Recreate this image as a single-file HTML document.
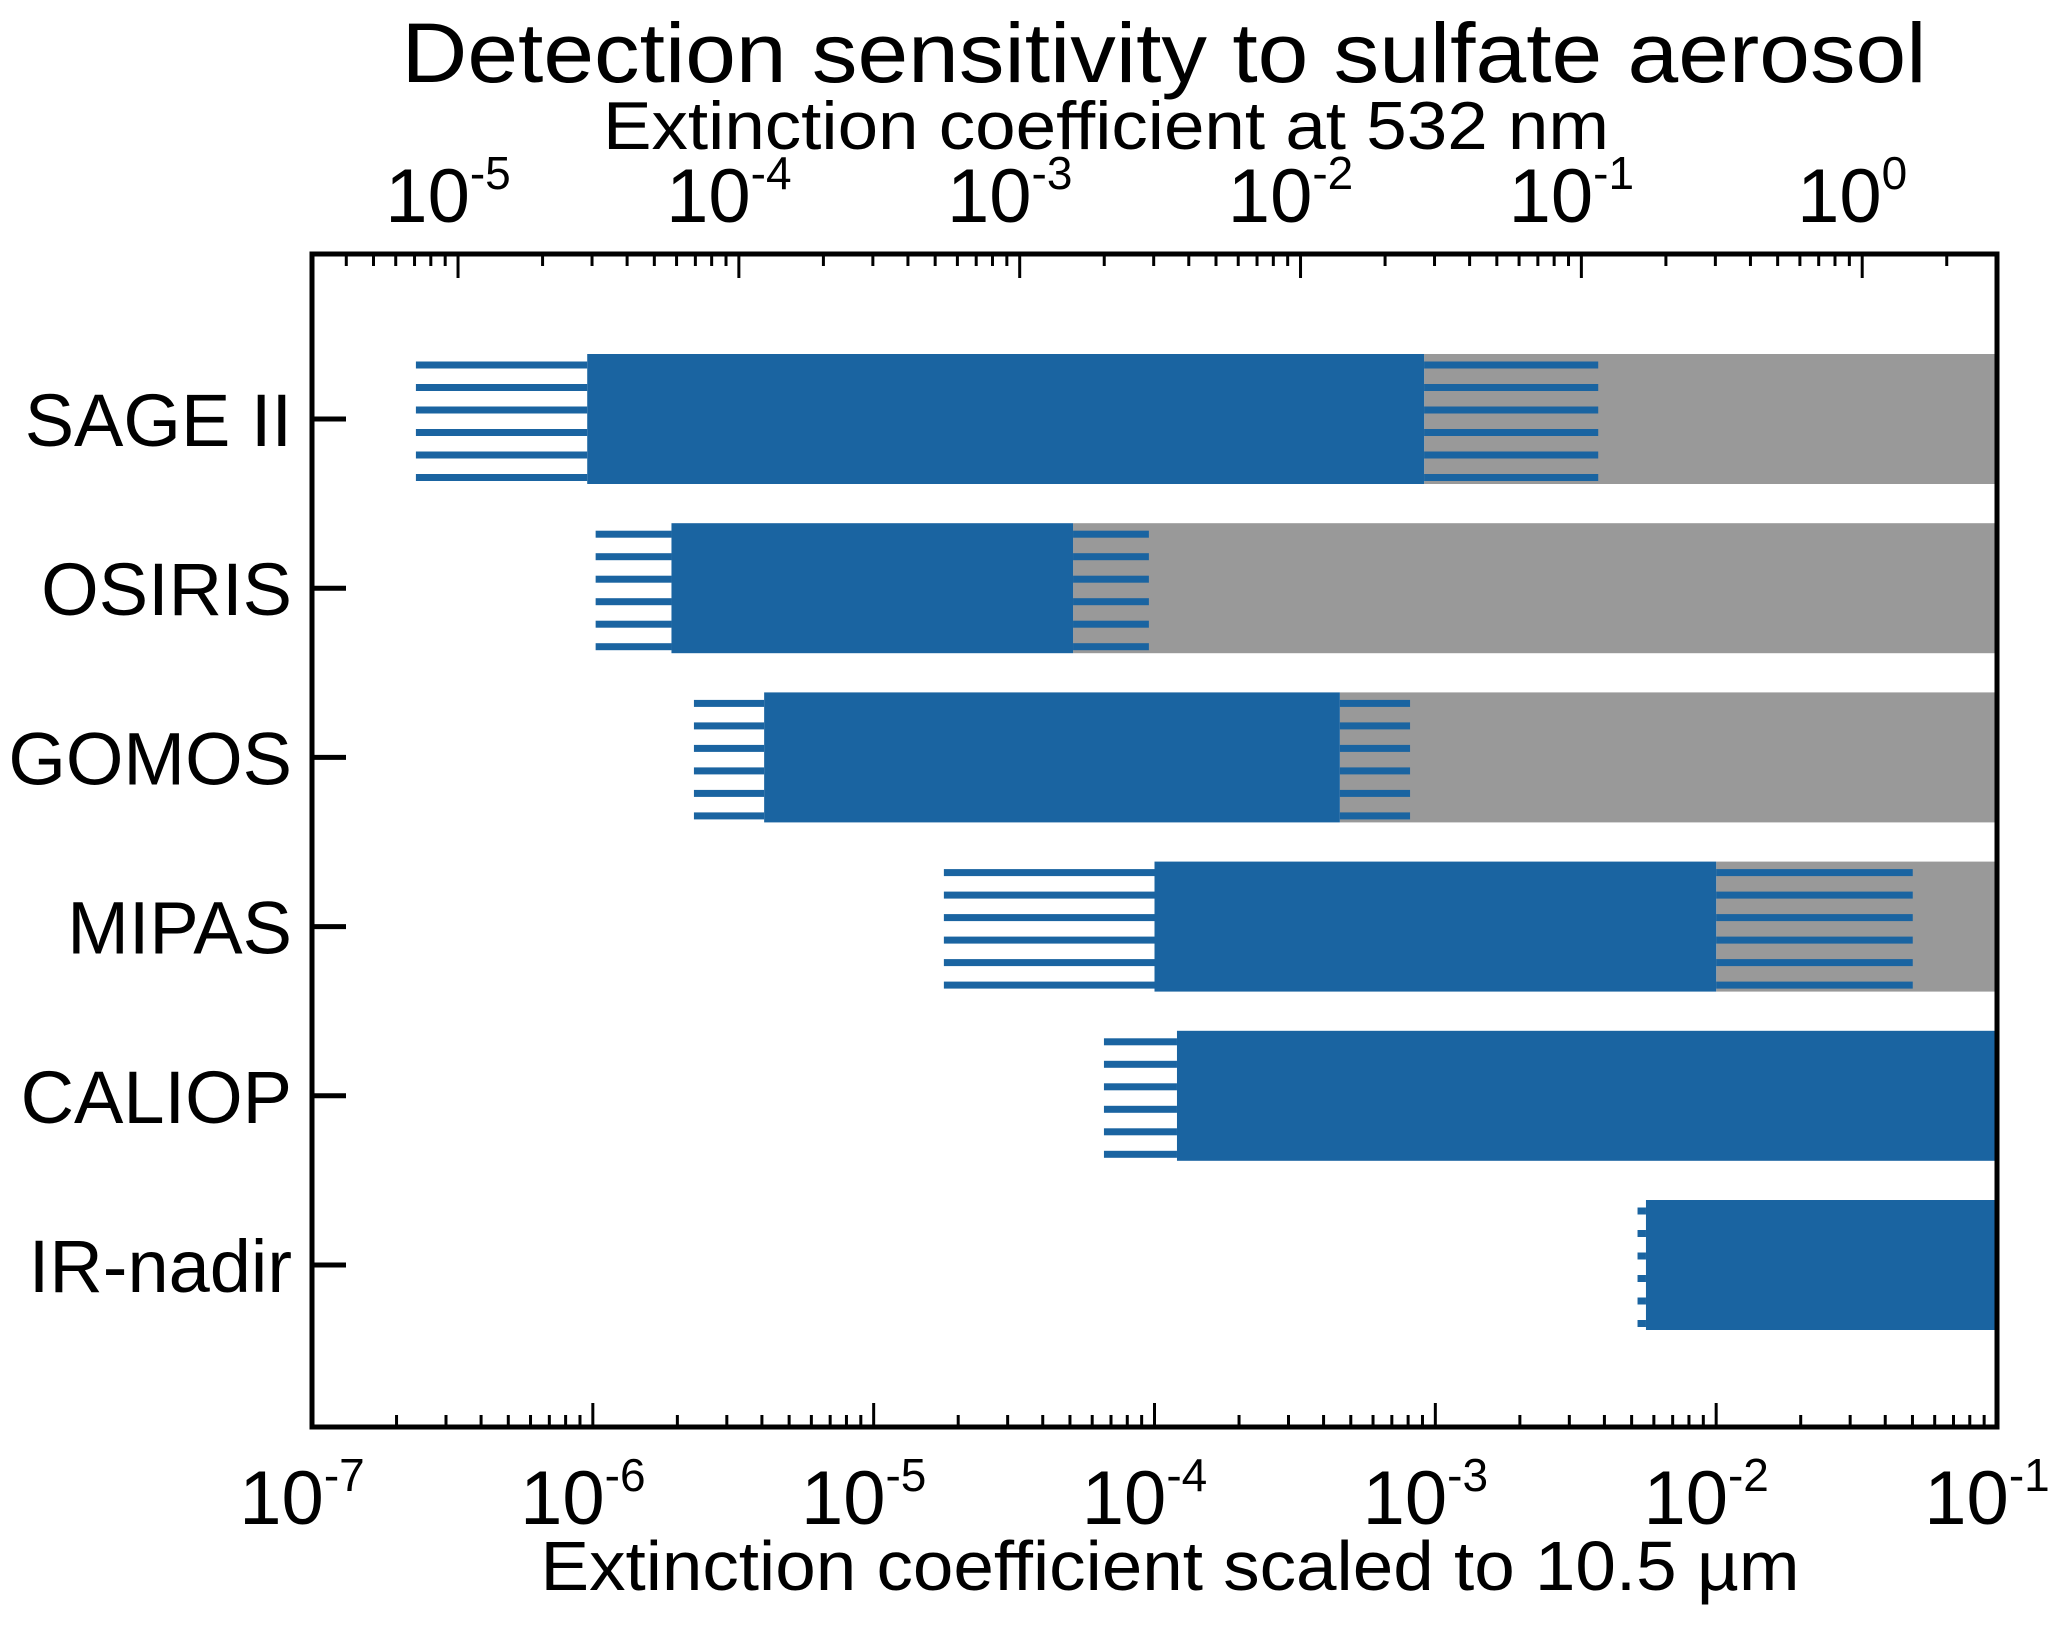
<!DOCTYPE html>
<html><head><meta charset="utf-8"><style>
html,body{margin:0;padding:0;background:#fff;}
svg{display:block;font-family:"Liberation Sans",Arial,sans-serif;}
</style></head>
<body>
<svg id="chart" width="2067" height="1635" viewBox="0 0 2067 1635" xmlns="http://www.w3.org/2000/svg">
<text x="1164" y="82" font-size="84" text-anchor="middle" textLength="1525" lengthAdjust="spacingAndGlyphs">Detection sensitivity to sulfate aerosol</text>
<text x="1106" y="149" font-size="68" text-anchor="middle" textLength="1006" lengthAdjust="spacingAndGlyphs">Extinction coefficient at 532 nm</text>
<text x="1170" y="1590" font-size="70" text-anchor="middle" textLength="1259" lengthAdjust="spacingAndGlyphs">Extinction coefficient scaled to 10.5 µm</text>
<g id="bars"></g>
<g id="axes"></g>
</svg>
<script>
const instruments = ["SAGE II","OSIRIS","GOMOS","MIPAS","CALIOP","IR-nadir"];
// log10 extinction (10.5 µm scale)
const hatchLeftStart = [-6.63,-5.99,-5.64,-4.75,-4.18,-2.28];
const solidStart     = [-6.02,-5.72,-5.39,-4.00,-3.92,-2.25];
const solidEnd       = [-3.04,-4.29,-3.34,-2.00,-1.00,-1.00];
const hatchRightEnd  = [-2.42,-4.02,-3.09,-1.30,null,null];
const grayEnd        = [-1.00,-1.00,-1.00,-1.00,null,null];
const bottomTicks = [-7,-6,-5,-4,-3,-2,-1];
const topTicks = [-5,-4,-3,-2,-1,0];
const topOffset = 1.48;

const L=312,R=1997,T=254,B=1427;
const xMin=-7,xMax=-1;
const x = v => L + (v-xMin)/(xMax-xMin)*(R-L);
const xTop = e => x(e - topOffset);
const rowY = i => 419 + i*169.2;
const BH=130;
const NS="http://www.w3.org/2000/svg";
const BLUE="#1a64a1", GRAY="#999999";
function mk(tag,attrs,parent){const e=document.createElementNS(NS,tag);for(const k in attrs)e.setAttribute(k,attrs[k]);parent.appendChild(e);return e;}
const bars=document.getElementById('bars'), axes=document.getElementById('axes');

function hatch(x0,x1,cy,parent,name){
  const g=mk('g',{},parent);
  
  
  for(let k=0;k<6;k++){
    const y=cy-BH/2+11+k*22.5-3.5;
    const r=mk('rect',{x:x0,y:y,width:Math.max(0,x1-x0),height:7,fill:BLUE},g);
    
    
  }
}

instruments.forEach((nm,i)=>{
  const cy=rowY(i), top=cy-BH/2;
  const slug=nm.toLowerCase().replace(/[^a-z0-9]+/g,'-');
  if(grayEnd[i]!==null){
    const g=mk('rect',{x:x(solidEnd[i]),y:top,width:x(grayEnd[i])-x(solidEnd[i]),height:BH,fill:GRAY},bars);
    
    
  }
  const s=mk('rect',{x:x(solidStart[i]),y:top,width:x(solidEnd[i])-x(solidStart[i]),height:BH,fill:BLUE},bars);
  
  
  hatch(x(hatchLeftStart[i]),x(solidStart[i]),cy,bars,slug+'-left-hatch');
  if(hatchRightEnd[i]!==null) hatch(x(solidEnd[i]),x(hatchRightEnd[i]),cy,bars,slug+'-right-hatch');
  const t=mk('text',{x:292,y:cy+27,'font-size':74,'text-anchor':'end'},axes);
  t.textContent=nm;
  
  
  const tk=mk('line',{x1:L,x2:L+34,y1:cy,y2:cy,stroke:'#000','stroke-width':5},axes);
  
  
});

const frame=mk('rect',{x:L,y:T,width:R-L,height:B-T,fill:'none',stroke:'#000','stroke-width':5},axes);



for(let d=xMin; d<xMax; d++){
  for(let m=1;m<=9;m++){
    const v=d+Math.log10(m); const xx=x(v);
    const len=m===1?24:12;
    const l=mk('line',{x1:xx,x2:xx,y1:B,y2:B-len,stroke:'#000','stroke-width':3},axes);
    
    
  }
}
bottomTicks.forEach(e=>{
  const t=mk('text',{x:x(e)-10,y:1524,'font-size':76,'text-anchor':'middle'},axes);
  
  
  t.textContent='10';
  const s=mk('tspan',{dy:-33,'font-size':46},t); s.textContent=String(e);
});
for(let d=-6; d<=1; d++){
  for(let m=1;m<=9;m++){
    const v=d+Math.log10(m); const xx=xTop(v);
    if(xx<L+3||xx>R-3) continue;
    const len=m===1?24:12;
    const l=mk('line',{x1:xx,x2:xx,y1:T,y2:T+len,stroke:'#000','stroke-width':3},axes);
    
    
  }
}
topTicks.forEach(e=>{
  const t=mk('text',{x:xTop(e)-10,y:222,'font-size':76,'text-anchor':'middle'},axes);
  
  
  t.textContent='10';
  const s=mk('tspan',{dy:-33,'font-size':46},t); s.textContent=String(e);
});
</script>
</body></html>
